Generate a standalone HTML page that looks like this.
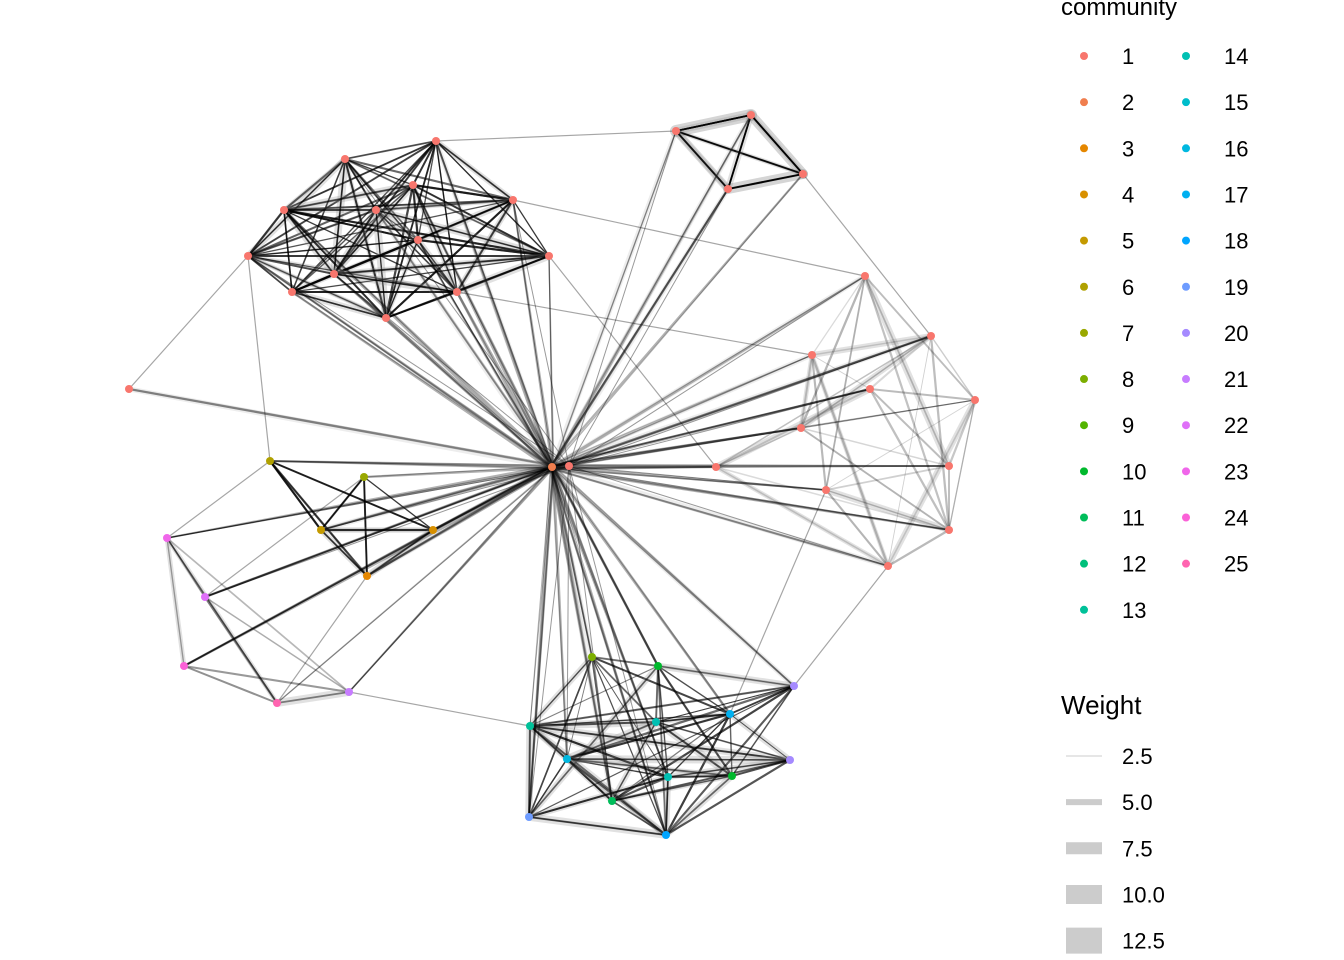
<!DOCTYPE html>
<html><head><meta charset="utf-8"><style>
body{margin:0;background:#fff;width:1344px;height:960px;overflow:hidden;font-family:"Liberation Sans",Arial,sans-serif}
svg{position:absolute;left:0;top:0}
</style></head><body>
<svg id="s" width="1344" height="960" xmlns="http://www.w3.org/2000/svg">
<g id="edges"></g><g id="nodes"></g>
<g font-family="Liberation Sans, Arial, sans-serif" font-size="22" fill="#000">
<text x="1061" y="15" font-size="24">community</text>
<text x="1061" y="714" font-size="26">Weight</text>
</g>
<g id="leg"></g>
</svg>
<script>
var S="http://www.w3.org/2000/svg";
function el(p,t,a){var e=document.createElementNS(S,t);for(var k in a)e.setAttribute(k,a[k]);p.appendChild(e);return e;}
var E=document.getElementById('edges'),N=document.getElementById('nodes'),L=document.getElementById('leg');
var seed=7;function r(){seed=(seed*16807)%2147483647;return seed/2147483647;}
var C=[552,467],C2=[569,466];
var TL=[[436,141],[345,159],[413,185],[513,200],[284,210],[376,210],[418,240],[248,256],[549,256],[334,274],[292,292],[457,292],[386,318]];
var TR=[[676,131],[751,115],[803,174],[728,189]];
var RC=[[865,276],[931,336],[812,355],[870,389],[975,400],[801,428],[716,467],[949,466],[826,490],[949,530],[888,566]];
var LC=[[270,461],[364,477],[321,530],[433,530],[367,576]];
var PK=[[167,538],[205,597],[184,666],[277,703],[349,692]];
var BC=[[592,657],[658,666],[530,726],[656,722],[730,714],[794,686],[567,759],[668,777],[732,776],[790,760],[612,801],[529,817],[666,835]];
function line(a,b,w,o,c){el(E,'line',{x1:a[0],y1:a[1],x2:b[0],y2:b[1],stroke:c||'#000','stroke-width':w,'stroke-opacity':o,'stroke-linecap':'round'});}
function clique(g,d,heavy,rep){for(var i=0;i<g.length;i++)for(var j=i+1;j<g.length;j++){if(r()<d){var h=r();if(h<0.35)line(g[i],g[j],4+r()*4,0.25,'#888');for(var q=0;q<rep;q++)line(g[i],g[j],0.8+r()*1.5,heavy*(0.4+r()*0.5));}}}
line(TR[0],TR[1],12,0.35,'#888');line(TR[2],TR[3],10,0.35,'#888');line(TR[1],TR[2],10,0.35,'#888');line(TR[0],TR[3],8,0.3,'#888');
clique(TL,0.95,0.8,2);clique(TR,1,0.9,4);
clique(RC,0.6,0.35,1);clique(LC,0.9,0.8,3);clique(PK,0.8,0.6,1);clique(BC,0.85,0.7,2);
var all=[].concat(TL,TR,RC,LC,PK,BC,[[129,389]]);
all.forEach(function(p,i){var k=r();if(k<0.92){var n=2+Math.floor(r()*3);for(var q=0;q<n;q++)line([C[0]+r()*4-2,C[1]+r()*4-2],p,1+r()*1.5,0.3,'#000');if(r()<0.35)line(C,p,5,0.15,'#888');}if(r()<0.4)line(C2,p,1,0.4);});
[[[129,389],[248,256]],[[248,256],[270,461]],[[167,538],[270,461]],[[513,200],[865,276]],[[676,131],[436,141]],[[803,174],[931,336]],[[794,686],[888,566]],[[730,714],[826,490]],[[530,726],[349,692]],[[457,292],[812,355]],[[549,256],[716,467]],[[184,666],[433,530]],[[205,597],[364,477]],[[277,703],[367,576]],[[167,538],[552,467]],[[205,597],[552,467]],[[184,666],[552,467]]].forEach(function(e){line(e[0],e[1],1.2,0.35,'#000');});
var P=['#F8766D','#F07E4E','#E58700','#D89000','#C49A00','#B0A100','#99A800','#7CAE00','#53B400','#00B92D','#00BD5A','#00C07B','#00C199','#00C0B3','#00BDCB','#00B8E0','#00B0F0','#00A5FF','#6E9CFF','#A58AFF','#C77CFF','#DF70F8','#F066EA','#FB61D7','#FF64B0'];
function node(p,c){el(N,'circle',{cx:p[0],cy:p[1],r:4,fill:c});}
TL.concat(TR,RC,[[129,389]]).forEach(function(p){node(p,P[0]);});
node(C,P[1]);node(C2,P[0]);
node(LC[0],P[5]);node(LC[1],P[6]);node(LC[2],P[4]);node(LC[3],P[3]);node(LC[4],P[2]);
node(PK[0],P[22]);node(PK[1],P[21]);node(PK[2],P[23]);node(PK[3],P[24]);node(PK[4],P[20]);
var bcc=[7,9,12,13,16,19,15,13,9,19,10,18,17];BC.forEach(function(p,i){node(p,P[bcc[i]]);});
for(var i=0;i<25;i++){var col=i<13?0:1,row=i<13?i:i-13,y=56+row*46.15,x=col?1186:1084;
el(L,'circle',{cx:x,cy:y,r:4,fill:P[i]});var t=el(L,'text',{x:col?1224:1122,y:y+8,'font-size':22,'font-family':'Liberation Sans, Arial, sans-serif'});t.textContent=i+1;}
var ws=['2.5','5.0','7.5','10.0','12.5'],th=[0.8,6,12,19,26];
ws.forEach(function(w,i){var y=756+i*46.15;el(L,'line',{x1:1066,x2:1102,y1:y,y2:y,stroke:i?'#ccc':'#bbb','stroke-width':th[i]});var t=el(L,'text',{x:1122,y:y+8,'font-size':22,'font-family':'Liberation Sans, Arial, sans-serif'});t.textContent=w;});
</script>
</body></html>
